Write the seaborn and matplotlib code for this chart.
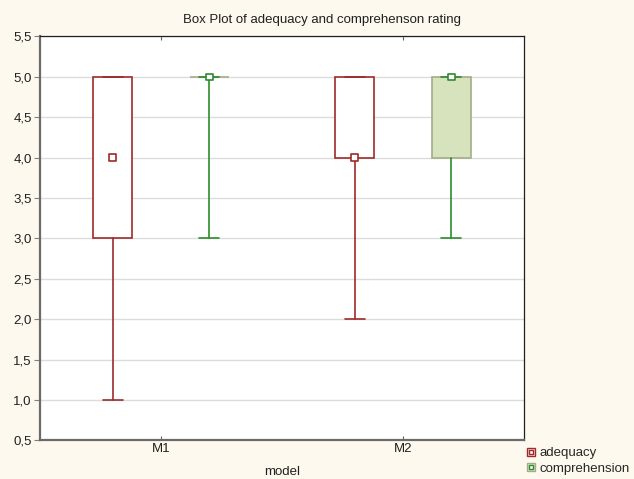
import matplotlib
matplotlib.use("Agg")
import matplotlib.pyplot as plt
from matplotlib.ticker import MultipleLocator, FuncFormatter
from matplotlib.lines import Line2D
import seaborn as sns
import pandas as pd

# Summary statistics per model and rating (median, quartiles, min-max whiskers)
models = ["M1", "M2"]
variables = ["adequacy", "comprehension"]
medians = {"adequacy": [4.0, 4.0], "comprehension": [5.0, 5.0]}
q1 = {"adequacy": [3.0, 4.0], "comprehension": [5.0, 4.0]}
q3 = {"adequacy": [5.0, 5.0], "comprehension": [5.0, 5.0]}
mins = {"adequacy": [1.0, 2.0], "comprehension": [3.0, 3.0]}
maxs = {"adequacy": [5.0, 5.0], "comprehension": [5.0, 5.0]}

sns.set_style("white")
plt.rcParams["font.family"] = ["Liberation Sans", "DejaVu Sans"]

bg = "#fef9ee"
fs = 9.5
edge = {"adequacy": "#9e2a2a", "comprehension": "#2e8b2e"}
box_edge = {"adequacy": "#9e2a2a", "comprehension": "#a3ad88"}
box_fill = {"adequacy": "#ffffff", "comprehension": "#d7e3bd"}
offsets = {"adequacy": -0.2, "comprehension": 0.2}

fig = plt.figure(figsize=(6.34, 4.79), dpi=100, facecolor=bg)
ax = fig.add_axes([40 / 634, 1 - 440.4 / 479, 484 / 634, 404.1 / 479])
ax.set_facecolor("white")

rows = []
for var in variables:
    stats = []
    positions = []
    for i, m in enumerate(models):
        stats.append(dict(med=medians[var][i], q1=q1[var][i], q3=q3[var][i],
                          whislo=mins[var][i], whishi=maxs[var][i], fliers=[]))
        positions.append(i + offsets[var])
        rows.append(dict(model=m, variable=var, median=medians[var][i],
                         pos=i + offsets[var]))
    ax.bxp(stats, positions=positions, widths=0.16, patch_artist=True,
           showcaps=True, capwidths=0.083, manage_ticks=False,
           boxprops=dict(facecolor=box_fill[var], edgecolor=box_edge[var], linewidth=1.2),
           whiskerprops=dict(color=edge[var], linewidth=1.2),
           capprops=dict(color=edge[var], linewidth=1.2),
           medianprops=dict(linewidth=0))

df = pd.DataFrame(rows)
sns.scatterplot(data=df, x="pos", y="median", hue="variable",
                palette=edge, marker="s", s=20,
                linewidth=1.2, ax=ax, legend=False, zorder=5)
for coll in ax.collections:
    fc = coll.get_facecolors()
    coll.set_edgecolors(fc)
    coll.set_facecolors("white")

ax.set_xlim(-0.5, 1.5)
ax.set_ylim(0.5, 5.5)
ax.yaxis.set_major_locator(MultipleLocator(0.5))
ax.yaxis.set_major_formatter(FuncFormatter(lambda v, p: f"{v:.1f}".replace(".", ",")))
ax.set_xticks(range(len(models)))
ax.set_xticklabels(models)
ax.grid(axis="y", color="#dcdcdc", linewidth=1.0)
ax.set_axisbelow(True)
ax.tick_params(axis="y", direction="out", length=4, width=0.8, color="#808080",
               labelsize=fs, pad=2, left=True, labelcolor="#202020")
ax.tick_params(axis="x", direction="in", length=3, width=0.8, color="#606060",
               labelsize=fs, pad=2, bottom=True, top=True, labelcolor="#202020")
for side in ["left", "bottom"]:
    ax.spines[side].set_color("#6a6a6a")
    ax.spines[side].set_linewidth(1.6)
for side in ["top", "right"]:
    ax.spines[side].set_color("#202020")
    ax.spines[side].set_linewidth(0.9)
ax.set_xlabel("")
ax.set_ylabel("")

fig.text(322 / 634, 1 - 20 / 479, "Box Plot of adequacy and comprehenson rating",
         ha="center", va="center", fontsize=fs, color="#202020")
fig.text(282 / 634, 1 - 472 / 479, "model", ha="center", va="center",
         fontsize=fs, color="#202020")

handles = []
for var in variables:
    outer = Line2D([], [], marker="s", linestyle="none", markersize=6,
                   markerfacecolor=box_fill[var] if var == "comprehension" else "#f6dede",
                   markeredgecolor=box_edge[var] if var == "comprehension" else edge[var],
                   markeredgewidth=1.0)
    inner = Line2D([], [], marker="s", linestyle="none", markersize=2.6,
                   markerfacecolor="white", markeredgecolor=edge[var],
                   markeredgewidth=1.0)
    handles.append((outer, inner))
fig.legend(handles, variables, loc="upper left",
           bbox_to_anchor=(526 / 634, 1 - 447 / 479), frameon=False,
           fontsize=fs, handlelength=0.7, handletextpad=0.35, labelspacing=0.25,
           borderpad=0, borderaxespad=0)

fig.savefig("out.png", dpi=100, facecolor=bg)
